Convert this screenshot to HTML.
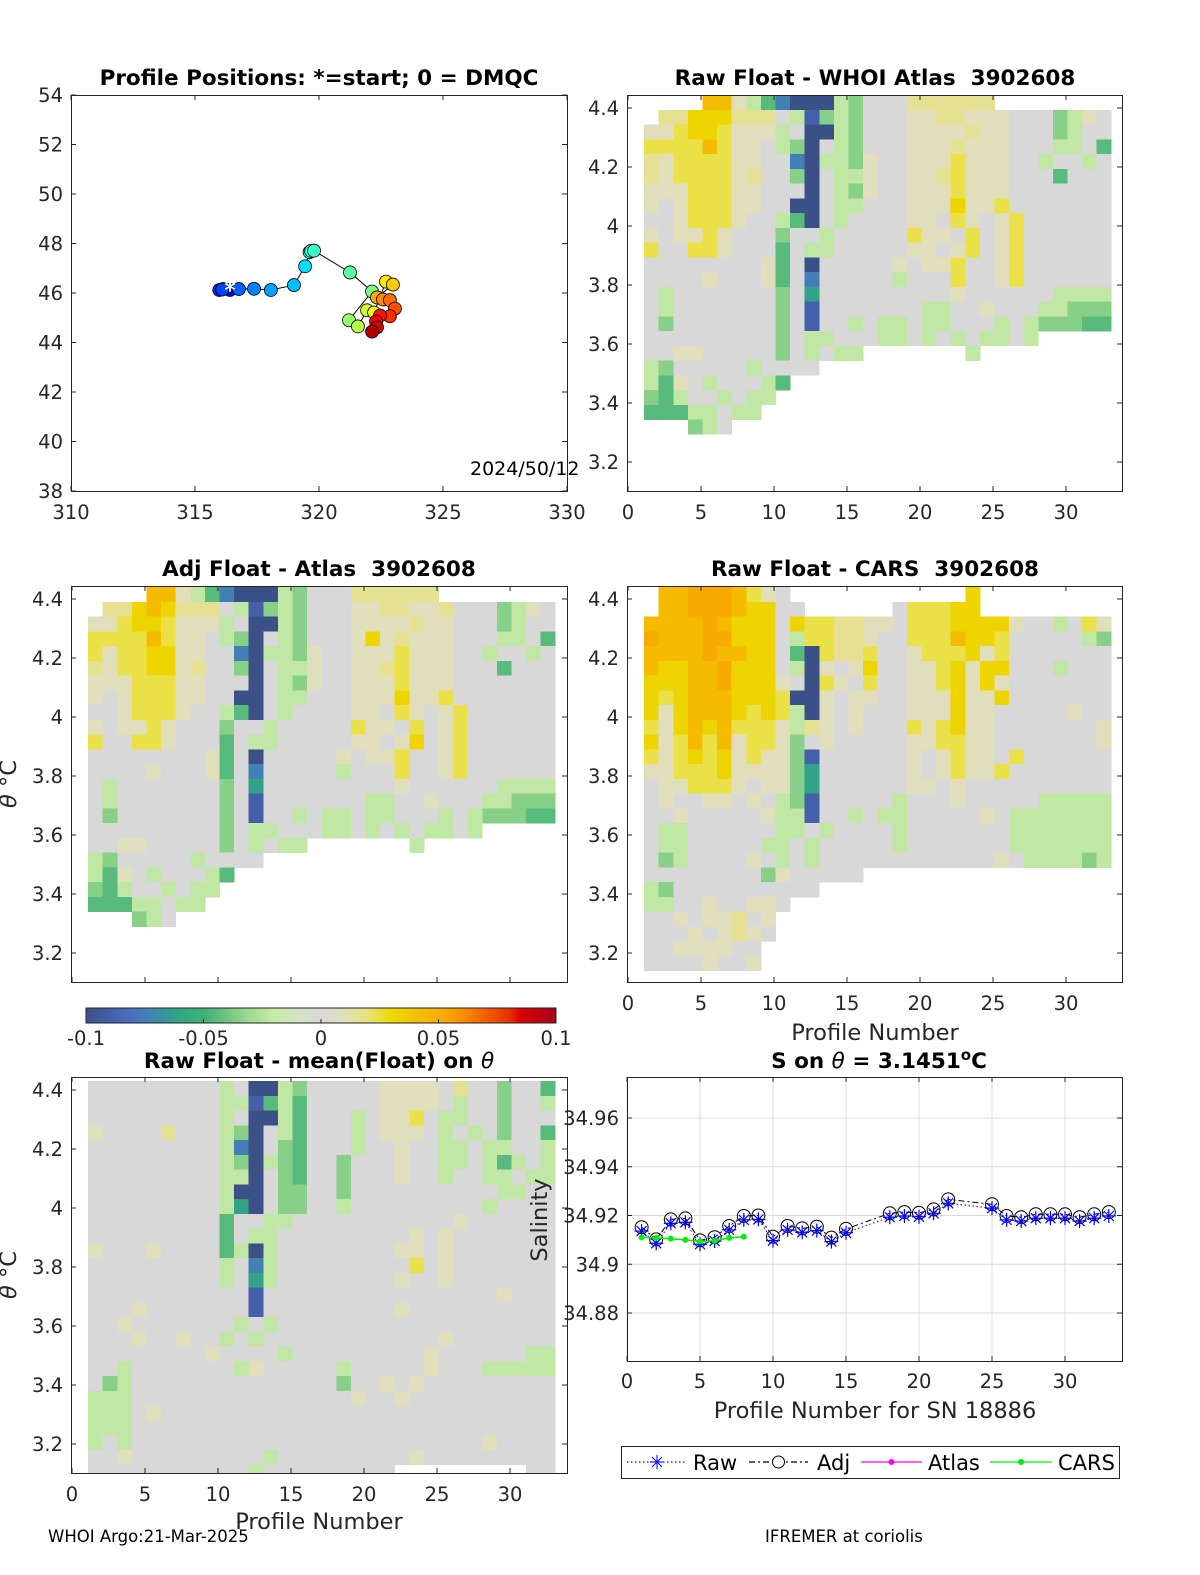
<!DOCTYPE html>
<html><head><meta charset="utf-8">
<style>
html,body{margin:0;padding:0;background:#fff;}
svg{display:block;font-family:"DejaVu Sans","Liberation Sans",sans-serif;}
.tk{font-size:19.5px;fill:#262626;}
.tt{font-size:21.5px;font-weight:bold;fill:#000;}
.lb{font-size:22.5px;fill:#262626;}
</style></head>
<body>
<svg id="fig" width="1200" height="1575" viewBox="0 0 1200 1575" xmlns="http://www.w3.org/2000/svg">
<rect width="1200" height="1575" fill="#fff"/>
<g id="layer"></g>
<text class="tt" x="319" y="85" text-anchor="middle">Profile Positions: *=start; 0 = DMQC</text>
<text class="tt" x="875" y="85" text-anchor="middle">Raw Float - WHOI Atlas&#160; 3902608</text>
<text class="tt" x="319" y="576" text-anchor="middle">Adj Float - Atlas&#160; 3902608</text>
<text class="tt" x="875" y="576" text-anchor="middle">Raw Float - CARS&#160; 3902608</text>
<text class="tt" x="319" y="1068" text-anchor="middle">Raw Float - mean(Float) on <tspan font-style="italic" font-weight="normal">θ</tspan></text>
<text class="tt" x="879" y="1068" text-anchor="middle">S on <tspan font-style="italic" font-weight="normal">θ</tspan> = 3.1451<tspan dy="-8" font-size="15">o</tspan><tspan dy="8">C</tspan></text>
<text class="lb" x="875" y="1040" text-anchor="middle">Profile Number</text>
<text class="lb" x="319" y="1529" text-anchor="middle">Profile Number</text>
<text class="lb" x="875" y="1418" text-anchor="middle">Profile Number for SN 18886</text>
<text class="lb" transform="translate(547,1220) rotate(-90)" text-anchor="middle">Salinity</text>
<text class="lb" transform="translate(16,784) rotate(-90)" text-anchor="middle"><tspan font-style="italic">θ</tspan> °C</text>
<text class="lb" transform="translate(16,1275) rotate(-90)" text-anchor="middle"><tspan font-style="italic">θ</tspan> °C</text>
<text x="470" y="475" font-size="19" fill="#000">2024/50/12</text>
<text x="48" y="1542" font-size="16.5" fill="#000">WHOI Argo:21-Mar-2025</text>
<text x="765" y="1542" font-size="16.5" fill="#000">IFREMER at coriolis</text>
</svg>
<script>
// ---------- data ----------
const mapLon=[316.41,316.13,315.98,316.10,316.77,317.38,318.06,318.99,319.44,319.62,319.68,319.80,321.25,322.14,321.21,321.57,321.94,322.22,322.70,322.98,322.34,322.58,322.86,323.06,322.86,322.46,322.30,322.34,322.14];
const mapLat=[46.12,46.16,46.12,46.14,46.16,46.17,46.12,46.32,47.08,47.65,47.70,47.71,46.83,46.06,44.90,44.65,45.30,45.21,46.46,46.34,45.82,45.74,45.71,45.37,45.06,45.09,44.85,44.61,44.44];
const mapXTicks=[310,315,320,325,330];
const mapYTicks=[38,40,42,44,46,48,50,52,54];
const profTicks=[0,5,10,15,20,25,30];
const thetaTicks=[3.2,3.4,3.6,3.8,4,4.2,4.4];
const salTicks=[34.88,34.9,34.92,34.94,34.96];
const cbTicks=[-0.1,-0.05,0,0.05,0.1];
const rawProf=[1,2,3,4,5,6,7,8,9,10,11,12,13,14,15,18,19,20,21,22,25,26,27,28,29,30,31,32,33];
const rawSal=[34.9136,34.9086,34.9168,34.9172,34.9082,34.9095,34.9141,34.9182,34.9184,34.9097,34.9141,34.9131,34.9138,34.9093,34.9129,34.9193,34.9198,34.9195,34.9209,34.9250,34.9230,34.9182,34.9177,34.9189,34.9189,34.9189,34.9177,34.9189,34.9198];
const adjSal=[34.9152,34.9102,34.9184,34.9188,34.9098,34.9111,34.9157,34.9198,34.9200,34.9113,34.9157,34.9147,34.9154,34.9109,34.9145,34.9209,34.9214,34.9211,34.9225,34.9266,34.9246,34.9198,34.9193,34.9205,34.9205,34.9205,34.9193,34.9205,34.9214];
const carsProf=[1,2,3,4,5,6,7,8];
const carsSal=[34.9110,34.9108,34.9105,34.9100,34.9094,34.9096,34.9108,34.9113];
// heatmap level codes (anomaly classes)
const codeVal={'B':-0.1,'b':-0.09,'t':-0.075,'m':-0.062,'H':-0.045,'G':-0.035,'g':-0.022,'.':0,'e':0.009,'y':0.016,'Y':0.024,'Z':0.033,'O':0.043,'R':0.052};
const rawAtlasRows=[
"    OOegHtBBBgG...yyyyyy        ",
" yyZZZyyy.gbGgG...eeyyeee...Gge.",
"eeYZZYeeeg.BBgG...eeeeyee...Gg..",
"YYYYOYee.gGB.gG...eeeyeee...gg.H",
"yeYYYYee..tBggGe..eeeYeee..g..g.",
"yeYYYYey..GB.gge..eeyYeee...H...",
"eeeYYYee...B.gGe..eeeYeee.......",
"e.eYYYee..BB.gg...eeeZeeY.......",
"..eYYYe..gHB.g....ee.Ye.eY......",
"e.eeYe...G..g.....Yee.Y.eY......",
"Y..YYe...H.gg.....ee.eY.eY......",
"........eH.B.....e.eeY..eY......",
"....e...eH.t.....g...Y..eY......",
".g.......G.m.........e......gggg",
".g.......G.b.......gg..e...ggGGG",
".G.......G.b..g.gg.gg...g.gGGGHH",
".........G.gg...gg.g.g.gg.g     ",
"..ee.....G.g.gg       g         ",
"gG.....g....                    ",
"gHe.g...gH                      ",
"GHg..g.gg                       ",
"HHHgg.gg                        ",
"   Gg.                          "];
const adjAtlasRows=[
"    OOegHtBBBgG...yyyyyy        ",
" yyZOZyyy.gbGgG...eeyyeey...Gge.",
"eeYZZYeeeg.BBgG...eeeeyee...Gg..",
"YYYYOYee.gGB.gG...eZeyeee...gg.H",
"YeYYZZee..tBggGe..eeeYeee..g..g.",
"yeYYZZey..GB.gge..eeyYeee...H...",
"eeeYYYee...B.gGe..eeeYeee.......",
"e.eYYYee..BB.gg...eeeZeeY.......",
"..eYYYe..gHB.g....ee.Ye.eY......",
"e.eeYe...G..g.....Yee.Y.eY......",
"Y..YYe...H.gg.....ee.eZ.eY......",
"........eH.B.....e.eeY..eY......",
"....e...eH.t.....g...Y..eY......",
".g.......G.m.........e......gggg",
".g.......G.b.......gg..e...ggGGG",
".G.......G.b..g.gg.gg...g.gGGGHH",
".........G.gg...gg.g.g.gg.g     ",
"..ee.....G.g.gg       g         ",
"gG.....g....                    ",
"gHe.g...gH                      ",
"GHg..g.gg                       ",
"HHHgg.gg                        ",
"   Gg.                          "];
const carsRows=[
" OORRROYe.            Z         ",
" OORRROZZ..      .YYYZZ         ",
"OOOOROZZZ.ZYYyyee.YYYZZZZe..g.Ye",
"ROOORRZZZ.gYYyye..YYYOZZY.....gG",
"OOOOROOZZ.HBYyyY..eYYYZeY.......",
"OZZOORZZZ.gBe.eZ..eeYZeZZ...g...",
"ZZZOORZZZe.BYe.Y..eeYZeZe.......",
"ZYZOOOZZZYBBe.ee..eeeZeeZ.......",
"ZeZOOOZYZYgBe.e...eeeZee.....e..",
"YeZOZOYYYegye.e...YeYZee.......e",
"ZeYOYOeYYeG.e.....eeYYee.......e",
"YeYZYZeYeeGb......e.eYee.Y......",
"eeYYYZeeeeGm......e.eYeeY.......",
".eeYYYe.eeGm......ee.e..........",
".e..ee.e.gGb.....g...e.....ggggg",
"..e.....eggb..g.gg.....e.ggggggg",
".gg......gg.g....g.......ggggggg",
".gg.....gg.g.....g.......ggggggg",
".Gg....e.g.g............e.ggggGg",
"........Ge.....                 ",
"gG..........                    ",
"gg..e..ee.                      ",
"..e.eey.e                       ",
"...e.eye.                       ",
"..eeee..                        ",
"....e..e                        "];
const meanRows=[
".........g.BBgG.....eeee.y..G..H",
".........ggbHgH.....eeee.g..G..g",
".........g.BBgH...g.eeY.gg..G...",
"e....y...gGB.gH...g.eee.g.g.G..H",
".........gtB.GH...g..e..gg.gg..g",
".........gGBgGH..G...e..gg.gHg.g",
".........ggB.GH..G...e..g..gg.gg",
".........gBB.GG..G..........gg..",
".........gmB.GG..g.........g....",
".........H..gg...........e......",
".........H.gg.........e.e.......",
"e...e....HgBg........ee.e.......",
".........g.tg.........Y.e.......",
".........g.mg........e..e.......",
"...........b................e...",
"...e.......b.........e..........",
"..e.......g.g...................",
"...e..e..g.g............e.......",
"........e....g.........e......gg",
"..g.......ge.....g.....e...ggggg",
".Gg..............G..e.e.........",
"ggg...............e..e..........",
"ggg.e...........................",
"ggg.............................",
"g.g........................e....",
"..e.........g.........e.........",
"...........g.........         .."];
// ---------- helpers ----------
const NS="http://www.w3.org/2000/svg";
const layer=document.getElementById('layer');
function mk(tag,attrs,parent){const e=document.createElementNS(NS,tag);for(const k in attrs)e.setAttribute(k,attrs[k]);(parent||layer).appendChild(e);return e;}
const cmapStops=[[-0.1,[60,80,136]],[-0.09,[68,96,170]],[-0.08,[74,112,192]],[-0.07,[58,142,168]],[-0.06,[48,168,128]],[-0.05,[64,176,120]],[-0.04,[112,196,128]],[-0.03,[160,220,144]],[-0.02,[200,234,168]],[-0.01,[212,228,196]],[0,[216,216,216]],[0.01,[226,224,184]],[0.02,[232,226,120]],[0.03,[236,220,0]],[0.04,[244,192,0]],[0.05,[248,176,0]],[0.06,[248,144,0]],[0.07,[240,96,0]],[0.08,[232,48,0]],[0.085,[216,0,0]],[0.1,[168,0,32]]];
function cmap(v){v=Math.max(-0.1,Math.min(0.1,v));for(let i=0;i<cmapStops.length-1;i++){const a=cmapStops[i],b=cmapStops[i+1];if(v<=b[0]){const t=(v-a[0])/(b[0]-a[0]);const c=a[1].map((x,j)=>Math.round(x+(b[1][j]-x)*t));return `rgb(${c[0]},${c[1]},${c[2]})`;}}return 'rgb(168,0,32)';}
function axisBox(L,T,R,B,name){
  const r=mk('rect',{x:L+0.5,y:T+0.5,width:R-L,height:B-T,fill:'none',stroke:'#262626','stroke-width':1});
  
  
}
function tickText(x,y,s,anchor,name){const t=mk('text',{x:x,y:y,'text-anchor':anchor,class:'tk'});t.textContent=s;
  
  return t;}
function xTicks(L,T,B,sx,ticks,labY,name){ticks.forEach(v=>{const x=sx(v);mk('line',{x1:x,x2:x,y1:B,y2:B-5,stroke:'#262626'});mk('line',{x1:x,x2:x,y1:T,y2:T+5,stroke:'#262626'});
  if(labY)tickText(x,labY,String(v),'middle',name);});}
function yTicks(L,R,sy,ticks,labX,name,fmt){ticks.forEach(v=>{const y=sy(v);mk('line',{x1:L,x2:L+5,y1:y,y2:y,stroke:'#262626'});mk('line',{x1:R,x2:R-5,y1:y,y2:y,stroke:'#262626'});
  if(labX!==null)tickText(labX,y+7,fmt?fmt(v):String(v),'end',name);});}
// ---------- heatmap panel ----------
function heatPanel(rows,L,T,R,B,thetaTopCell,y44,name,showX){
  const sx=v=>L+1+v*14.6;
  const sy=t=>y44+(4.4-t)*295;
  const g=mk('g',{'shape-rendering':'crispEdges'});
  
  
  rows.forEach((row,r)=>{for(let k=0;k<32;k++){const ch=row[k];if(ch===undefined||ch===' ')continue;
    const x1=sx(k+1.1),x2=sx(k+2.1);const t1=thetaTopCell-r*0.05,t2=t1-0.05;
    let y1=Math.max(sy(t1),T+1),y2=Math.min(sy(t2),B);if(y2<=y1)continue;
    const c=mk('rect',{x:x1.toFixed(2),y:y1.toFixed(2),width:(x2-x1+0.4).toFixed(2),height:(y2-y1+0.4).toFixed(2),fill:cmap(codeVal[ch])},g);
    
    
  }});
  axisBox(L,T,R,B,name+'-axes');
  xTicks(L,T,B,sx,profTicks,showX?B+28:null,name+'-x-tick');
  yTicks(L,R,sy,thetaTicks,L-8,name+'-y-tick');
}
heatPanel(rawAtlasRows,627,95,1122,491,4.444,108,'raw-whoi',true);
heatPanel(adjAtlasRows,71,586,567,982,4.44,599,'adj-atlas',false);
heatPanel(carsRows,627,586,1122,982,4.44,599,'raw-cars',true);
heatPanel(meanRows,71,1077,567,1473,4.43,1090,'raw-mean',true);
// ---------- map ----------
(function(){
  const L=71,T=95,R=567,B=491;
  const sx=v=>L+(v-310)*24.8, sy=v=>B-(v-38)*24.75;
  axisBox(L,T,R,B,'map-axes');
  xTicks(L,T,B,sx,mapXTicks,B+28,'map-x-tick');
  yTicks(L,R,sy,mapYTicks,L-8,'map-y-tick');
  const pts=mapLon.map((v,i)=>sx(v).toFixed(1)+','+sy(mapLat[i]).toFixed(1)).join(' ');
  const pl=mk('polyline',{points:pts,fill:'none',stroke:'#000','stroke-width':1});
  
  
  const n=mapLon.length;
  function jet(t){const r=Math.min(1,Math.max(0,1.5-Math.abs(4*t-3))),g=Math.min(1,Math.max(0,1.5-Math.abs(4*t-2))),b=Math.min(1,Math.max(0,1.5-Math.abs(4*t-1)));return `rgb(${Math.round(r*255)},${Math.round(g*255)},${Math.round(b*255)})`;}
  mapLon.forEach((v,i)=>{const c=mk('circle',{cx:sx(v),cy:sy(mapLat[i]),r:6.5,fill:jet(0.1+0.85*i/(n-1)),stroke:'#000','stroke-width':0.8});
    
    });
  const s=mk('text',{x:sx(mapLon[0]),y:sy(mapLat[0])+8,'text-anchor':'middle','font-size':22,fill:'#fff',stroke:'#fff','stroke-width':0.5});
  s.textContent='*';
  
  
})();
// ---------- colorbar ----------
(function(){
  const L=86,R=556,T=1008,B=1023;
  const defs=mk('defs',{});const lg=mk('linearGradient',{id:'cbg',x1:0,x2:1,y1:0,y2:0},defs);
  cmapStops.forEach(s=>mk('stop',{offset:((s[0]+0.1)/0.2).toFixed(3),'stop-color':cmap(s[0])},lg));
  const r=mk('rect',{x:L,y:T,width:R-L,height:B-T,fill:'url(#cbg)',stroke:'#262626','stroke-width':1});
  
  
  cbTicks.forEach(v=>{const x=L+(v+0.1)/0.2*(R-L);mk('line',{x1:x,x2:x,y1:B,y2:B-4,stroke:'#262626'});tickText(x,1045,String(v),'middle','colorbar-tick');});
})();
// ---------- salinity ----------
(function(){
  const L=627,T=1077,R=1122,B=1361;
  const sx=v=>L+v*14.6, sy=s=>1118+(34.96-s)*2437.5;
  profTicks.forEach(v=>mk('line',{x1:sx(v),x2:sx(v),y1:T,y2:B,stroke:'#dcdcdc'}));
  salTicks.forEach(v=>mk('line',{x1:L,x2:R,y1:sy(v),y2:sy(v),stroke:'#dcdcdc'}));
  axisBox(L,T,R,B,'salinity-axes');
  xTicks(L,T,B,sx,profTicks,B+27,'salinity-x-tick');
  yTicks(L,R,sy,salTicks,L-8,'salinity-y-tick',v=>String(v));
  const rp=rawProf.map((p,i)=>sx(p).toFixed(1)+','+sy(rawSal[i]).toFixed(1)).join(' ');
  const ap=rawProf.map((p,i)=>sx(p).toFixed(1)+','+sy(adjSal[i]).toFixed(1)).join(' ');
  const cp=carsProf.map((p,i)=>sx(p).toFixed(1)+','+sy(carsSal[i]).toFixed(1)).join(' ');
  const la=mk('polyline',{points:ap,fill:'none',stroke:'#000','stroke-width':1,'stroke-dasharray':'6,3,2,3'});
  
  
  const lr=mk('polyline',{points:rp,fill:'none',stroke:'#0000ff','stroke-width':1,'stroke-dasharray':'1.5,2.5'});
  
  
  rawProf.forEach((p,i)=>{const c=mk('circle',{cx:sx(p),cy:sy(adjSal[i]),r:6.5,fill:'none',stroke:'#000','stroke-width':1});
    
    });
  rawProf.forEach((p,i)=>{const x=sx(p),y=sy(rawSal[i]);const g=mk('g',{stroke:'#0000ff','stroke-width':1.2});
    
    
    mk('line',{x1:x-7,x2:x+7,y1:y,y2:y},g);mk('line',{x1:x,x2:x,y1:y-7,y2:y+7},g);mk('line',{x1:x-5,x2:x+5,y1:y-5,y2:y+5},g);mk('line',{x1:x-5,x2:x+5,y1:y+5,y2:y-5},g);});
  const lc=mk('polyline',{points:cp,fill:'none',stroke:'#00ee00','stroke-width':1.5});
  
  
  carsProf.forEach((p,i)=>{const c=mk('circle',{cx:sx(p),cy:sy(carsSal[i]),r:3,fill:'#00ee00'});
    
    });
})();
// ---------- legend ----------
(function(){
  const g=mk('g',{});
  
  
  mk('rect',{x:621.5,y:1446.5,width:498,height:32,fill:'#fff',stroke:'#262626'},g);
  const ents=[['Raw',627,687,693,'#0000ff','1.5,2.5','star'],['Adj',749,808,817,'#000','6,3,2,3','circle'],['Atlas',861,922,928,'#ff00ff','','dot'],['CARS',990,1052,1058,'#00ee00','','dot']];
  ents.forEach(e=>{const ge=mk('g',{},g);
    
    
    const y=1462,m=(e[1]+e[2])/2;
    mk('line',{x1:e[1],x2:e[2],y1:y,y2:y,stroke:e[4],'stroke-width':1.2,'stroke-dasharray':e[5]},ge);
    if(e[6]==='star'){[[-7,0,7,0],[0,-7,0,7],[-5,-5,5,5],[-5,5,5,-5]].forEach(d=>mk('line',{x1:m+d[0],y1:y+d[1],x2:m+d[2],y2:y+d[3],stroke:e[4]},ge));}
    else if(e[6]==='circle'){mk('circle',{cx:m,cy:y,r:6,fill:'#fff',stroke:'#000'},ge);}
    else mk('circle',{cx:m,cy:y,r:3,fill:e[4]},ge);
    const t=mk('text',{x:e[3],y:1470,'font-size':21,fill:'#000'},ge);t.textContent=e[0];});
})();
</script>
</body></html>
